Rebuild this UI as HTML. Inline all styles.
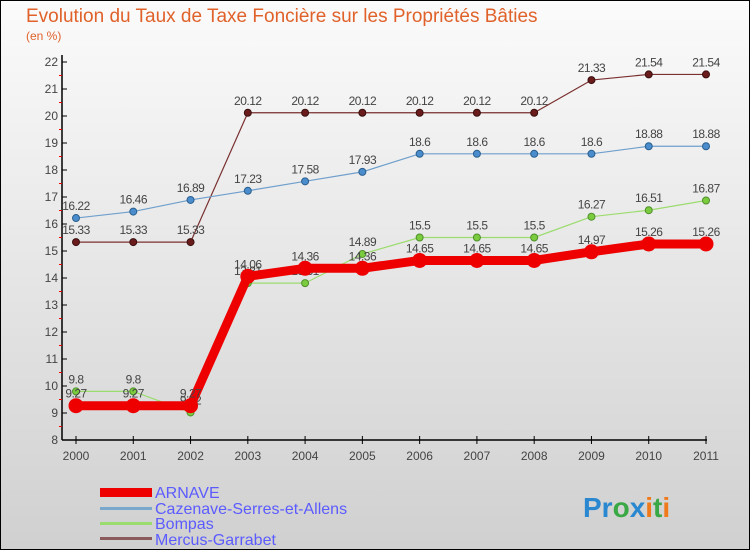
<!DOCTYPE html>
<html><head><meta charset="utf-8"><style>
body{margin:0;width:750px;height:550px;overflow:hidden;font-family:"Liberation Sans",sans-serif}
svg{display:block}
</style></head><body>
<svg id="c" width="750" height="550" xmlns="http://www.w3.org/2000/svg">
<defs><linearGradient id="bg" x1="0" y1="0" x2="0" y2="1"><stop offset="0" stop-color="#fbfbfb"/><stop offset="1" stop-color="#d0d0d0"/></linearGradient></defs>
<rect x="0.5" y="0.5" width="749" height="549" fill="url(#bg)" stroke="#000"/>
<text x="26" y="22" font-size="19" fill="#e0622a">Evolution du Taux de Taxe Foncière sur les Propriétés Bâties</text>
<text x="26" y="40" font-size="12" fill="#e0622a">(en %)</text>
<g id="axes"></g><g id="series"></g>
<g>
<rect x="100" y="488" width="52" height="9" fill="#e00"/>
<text x="155" y="498" font-size="16" fill="#5b5bff">ARNAVE</text>
<rect x="100" y="507" width="52" height="3" fill="#7aa7cc"/>
<text x="155" y="514" font-size="16" fill="#5b5bff">Cazenave-Serres-et-Allens</text>
<rect x="100" y="522" width="52" height="3" fill="#9bdc6e"/>
<text x="155" y="529" font-size="16" fill="#5b5bff">Bompas</text>
<rect x="100" y="537" width="52" height="3" fill="#8b5a5a"/>
<text x="155" y="545" font-size="16" fill="#5b5bff">Mercus-Garrabet</text>
</g>
<g font-size="28" font-weight="bold">
<text x="583" y="517"><tspan fill="#2a88d0">Pr</tspan><tspan fill="#39a845">o</tspan><tspan fill="#2a88d0">x</tspan><tspan fill="#f07a1a">i</tspan><tspan fill="#39a845">t</tspan><tspan fill="#f07a1a">i</tspan></text>
</g>
</svg>
<script>
const years=[2000,2001,2002,2003,2004,2005,2006,2007,2008,2009,2010,2011];
const yTicks=[8,9,10,11,12,13,14,15,16,17,18,19,20,21,22];
const arnave=[9.27,9.27,9.27,14.06,14.36,14.36,14.65,14.65,14.65,14.97,15.26,15.26];
const cazenave=[16.22,16.46,16.89,17.23,17.58,17.93,18.6,18.6,18.6,18.6,18.88,18.88];
const bompas=[9.8,9.8,9.02,13.81,13.81,14.89,15.5,15.5,15.5,16.27,16.51,16.87];
const mercus=[15.33,15.33,15.33,20.12,20.12,20.12,20.12,20.12,20.12,21.33,21.54,21.54];
const NS='http://www.w3.org/2000/svg';
const X=i=>76+i*(630/11);
const Y=v=>440-(v-8)*27;
function mk(t,a,p){const e=document.createElementNS(NS,t);for(const k in a)e.setAttribute(k,a[k]);p.appendChild(e);return e;}
const ax=document.getElementById('axes');
mk('line',{x1:62,y1:440,x2:707,y2:440,stroke:'#000','stroke-width':1.5},ax);
mk('line',{x1:62,y1:55,x2:62,y2:440,stroke:'#000','stroke-width':1.5},ax);
yTicks.forEach(v=>{
 const t=mk('text',{x:58,y:Y(v)+4,'font-size':12,fill:'#444','text-anchor':'end'},ax);t.textContent=v;
 
 
 mk('line',{x1:62,y1:Y(v),x2:67,y2:Y(v),stroke:'#000'},ax);
 if(v<22)mk('line',{x1:59,y1:Y(v+0.5),x2:62,y2:Y(v+0.5),stroke:'#e00'},ax);
});
years.forEach((y,i)=>{
 mk('line',{x1:X(i),y1:436,x2:X(i),y2:444,stroke:'#000'},ax);
 const t=mk('text',{x:X(i),y:460,'font-size':12,fill:'#444','text-anchor':'middle'},ax);t.textContent=y;
 
 
});
const sg=document.getElementById('series');
function series(name,vals,col,w,r,dot,dotStroke){
 const g=mk('g',{},sg);
 
 
 mk('polyline',{points:vals.map((v,i)=>X(i)+','+Y(v)).join(' '),fill:'none',stroke:col,'stroke-width':w,'stroke-linejoin':'round'},g);
 vals.forEach((v,i)=>{
  const c=mk('circle',{cx:X(i),cy:Y(v),r:r,fill:dot,stroke:dotStroke,'stroke-width':1},g);
  
  
  const t=mk('text',{x:X(i),y:Y(v)-8,'font-size':12,fill:'#444','text-anchor':'middle','letter-spacing':'-0.5'},g);
  t.textContent=String(v);
  
  
 });
}
series('mercus',mercus,'#7a3030',1.2,3.5,'#6a1c1c','#3a0e0e');
series('cazenave',cazenave,'#6f9fcc',1.2,3.5,'#4a8ccc','#2a5f8f');
series('bompas',bompas,'#9bdc6e',1.2,3.5,'#7acc3e','#4f8f2a');
series('arnave',arnave,'#ee0000',9,7,'#ee0000','#ee0000');
</script>
</body></html>
